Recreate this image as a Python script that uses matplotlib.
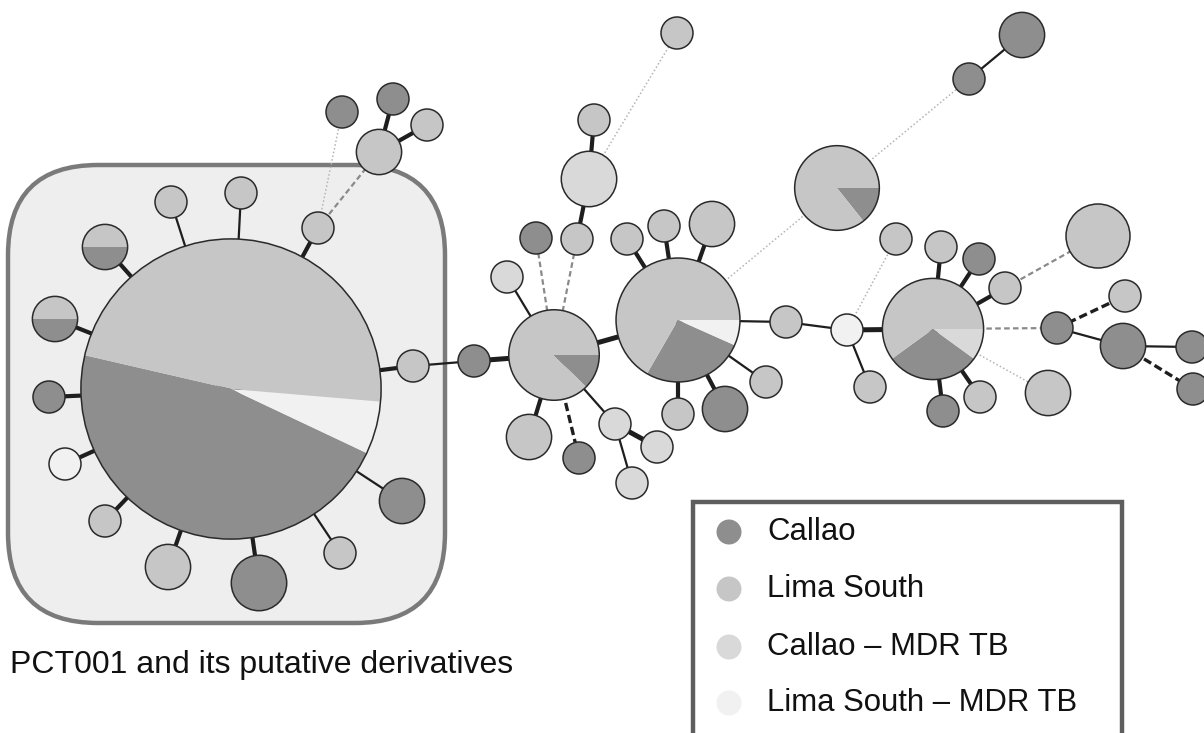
import numpy as np
import matplotlib
matplotlib.use("Agg")
import matplotlib.pyplot as plt
from matplotlib.patches import Circle, Wedge, FancyBboxPatch, Rectangle

plt.rcParams['font.family'] = ['Liberation Sans', 'DejaVu Sans']

# categories (legend order) and their grey shades
categories = ["Callao", "Lima South", "Callao \u2013 MDR TB", "Lima South \u2013 MDR TB"]
cat_colors = ["#8e8e8e", "#c6c6c6", "#d9d9d9", "#f1f1f1"]

# network layout (pixel coords of the original figure, y down)
node_x = [231, 105, 55, 49, 65, 105, 168, 259, 340, 402, 413, 318, 241, 171,
          379, 342, 393, 427, 474, 554, 507, 536, 577, 589, 594, 677, 529, 579,
          615, 657, 632, 678, 627, 664, 712, 786, 766, 725, 678, 837, 969, 1022,
          847, 870, 896, 933, 941, 979, 1005, 1098, 1057, 1125, 1123, 1192, 1193,
          1048, 980, 943]
node_y = [389, 247, 319, 397, 464, 521, 567, 583, 553, 501, 366, 228, 193, 202,
          152, 112, 99, 125, 361, 355, 277, 238, 239, 179, 120, 33, 437, 458,
          424, 447, 483, 320, 239, 226, 224, 322, 382, 409, 414, 188, 79, 35,
          330, 387, 239, 329, 247, 259, 288, 236, 328, 296, 346, 347, 389,
          393, 397, 411]

# isolate counts per node: Callao, Lima South, Callao MDR, Lima South MDR
n_callao = [41, 1, 1, 1, 0, 0, 0, 3, 0, 2, 0, 0, 0, 0,
            0, 1, 1, 0, 1, 1, 0, 1, 0, 0, 0, 0, 0, 1,
            0, 0, 0, 4, 0, 0, 0, 0, 0, 2, 0, 1, 1, 2,
            0, 0, 0, 3, 0, 1, 0, 0, 1, 0, 2, 1, 1,
            0, 0, 1]
n_lima = [42, 1, 1, 0, 0, 1, 2, 0, 1, 0, 1, 1, 1, 1,
          2, 0, 0, 1, 0, 7, 0, 0, 1, 0, 1, 1, 2, 0,
          0, 0, 0, 10, 1, 1, 2, 1, 1, 0, 1, 6, 0, 0,
          0, 1, 1, 6, 1, 0, 1, 4, 0, 1, 0, 0, 0,
          2, 1, 0]
n_callao_mdr = [0, 0, 0, 0, 0, 0, 0, 0, 0, 0, 0, 0, 0, 0,
                0, 0, 0, 0, 0, 0, 1, 0, 0, 3, 0, 0, 0, 0,
                1, 1, 1, 0, 0, 0, 0, 0, 0, 0, 0, 0, 0, 0,
                0, 0, 0, 1, 0, 0, 0, 0, 0, 0, 0, 0, 0,
                0, 0, 0]
n_lima_mdr = [5, 0, 0, 0, 1, 0, 0, 0, 0, 0, 0, 0, 0, 0,
              0, 0, 0, 0, 0, 0, 0, 0, 0, 0, 0, 0, 0, 0,
              0, 0, 0, 1, 0, 0, 0, 0, 0, 0, 0, 0, 0, 0,
              1, 0, 0, 0, 0, 0, 0, 0, 0, 0, 0, 0, 0,
              0, 0, 0]
# angle where the Callao slice starts (degrees, counter-clockwise on screen)
pie_start = {0: 167, 1: 180, 2: 180, 19: -45, 31: 240, 39: -51.4, 45: 216}

# links: (node a, node b, kind)
links = [(0, 1, 'thick'), (0, 2, 'thick'), (0, 3, 'thick'), (0, 4, 'thick'),
         (0, 5, 'thick'), (0, 6, 'thick'), (0, 7, 'thick'), (0, 8, 'thin'),
         (0, 9, 'thin'), (0, 10, 'thick'), (0, 11, 'thick'), (0, 12, 'thin'),
         (0, 13, 'thin'), (11, 14, 'gdash'), (11, 15, 'dotted'), (14, 16, 'thick'),
         (14, 17, 'thick'), (10, 18, 'thin'), (18, 19, 'double'), (19, 20, 'thin'),
         (19, 21, 'gdash'), (19, 22, 'gdash'), (22, 23, 'thick'), (23, 24, 'thick'),
         (23, 25, 'dotted'), (19, 26, 'thick'), (19, 27, 'dashed'), (19, 28, 'thin'),
         (28, 29, 'double'), (28, 30, 'thin'), (19, 31, 'double'), (31, 32, 'thick'),
         (31, 33, 'thick'), (31, 34, 'thick'), (31, 35, 'thin'), (31, 36, 'thin'),
         (31, 37, 'thick'), (31, 38, 'thick'), (31, 39, 'dotted'), (39, 40, 'dotted'),
         (40, 41, 'thin'), (35, 42, 'thin'), (42, 43, 'thin'), (42, 44, 'dotted'),
         (42, 45, 'double'), (45, 46, 'thick'), (45, 47, 'thick'), (45, 48, 'thick'),
         (48, 49, 'gdash'), (45, 50, 'gdash'), (50, 51, 'dashed'), (50, 52, 'thin'),
         (52, 53, 'thin'), (52, 54, 'dashed'), (45, 55, 'dotted'), (45, 56, 'thick'),
         (45, 57, 'thick')]

box_label = "PCT001 and its putative derivatives"

link_styles = {
    'thin':   dict(color='#1e1e1e', lw=1.6, ls='-'),
    'thick':  dict(color='#1e1e1e', lw=3.0, ls='-'),
    'double': dict(color='#1e1e1e', lw=3.6, ls='-'),
    'dashed': dict(color='#1e1e1e', lw=2.4, ls=(0, (2.5, 1.2))),
    'gdash':  dict(color='#8a8a8a', lw=1.6, ls=(0, (2.5, 1.5))),
    'dotted': dict(color='#b4b4b4', lw=1.1, ls=(0, (1, 1.5))),
}

W, H = 1204, 733
fig = plt.figure(figsize=(W / 100, H / 100), dpi=100)
ax = fig.add_axes([0, 0, 1, 1])
ax.set_xlim(0, W)
ax.set_ylim(H, 0)
ax.axis('off')

# rounded box around the big founder node
ax.add_patch(FancyBboxPatch((8, 165), 437, 458, boxstyle="round,pad=0,rounding_size=90",
                            fc='#eeeeee', ec='#7a7a7a', lw=3.2, zorder=0))
ax.text(10, 673, box_label, fontsize=23, va='baseline', ha='left', color='#111111')

# links drawn below the nodes
for a, b, kind in links:
    st = link_styles[kind]
    ax.plot([node_x[a], node_x[b]], [node_y[a], node_y[b]], color=st['color'],
            lw=st['lw'], ls=st['ls'], solid_capstyle='butt', zorder=1)

unit_r = 16  # radius of a single-isolate node
for i in range(len(node_x)):
    counts = [n_callao[i], n_lima_mdr[i], n_callao_mdr[i], n_lima[i]]
    shades = [cat_colors[0], cat_colors[3], cat_colors[2], cat_colors[1]]
    total = sum(counts)
    r = unit_r * np.sqrt(total)
    cx, cy = node_x[i], node_y[i]
    parts = [(c, s) for c, s in zip(counts, shades) if c > 0]
    if len(parts) == 1:
        ax.add_patch(Circle((cx, cy), r, fc=parts[0][1], ec='none', zorder=2))
    else:
        a0 = pie_start.get(i, 0)
        for c, s in parts:
            span = 360.0 * c / total
            # y axis is inverted, so screen angles are negated
            ax.add_patch(Wedge((cx, cy), r, -(a0 + span), -a0, fc=s, ec='none', zorder=2))
            a0 += span
    ax.add_patch(Circle((cx, cy), r, fc='none', ec='#2a2a2a', lw=1.1, zorder=3))

# legend panel (cut off by the lower edge, as in the source)
ax.add_patch(Rectangle((693, 502), 429, 260, fc='white', ec='#5e5e5e', lw=3.2, zorder=4))
leg_y = [532, 589, 647, 703]
for lab, col, y in zip(categories, cat_colors, leg_y):
    ax.add_patch(Circle((729, y), 12.5, fc=col, ec='none', zorder=5))
    ax.text(767, y, lab, fontsize=22.4, va='center', ha='left', color='#111111', zorder=5)

fig.savefig("out.png", dpi=100)
